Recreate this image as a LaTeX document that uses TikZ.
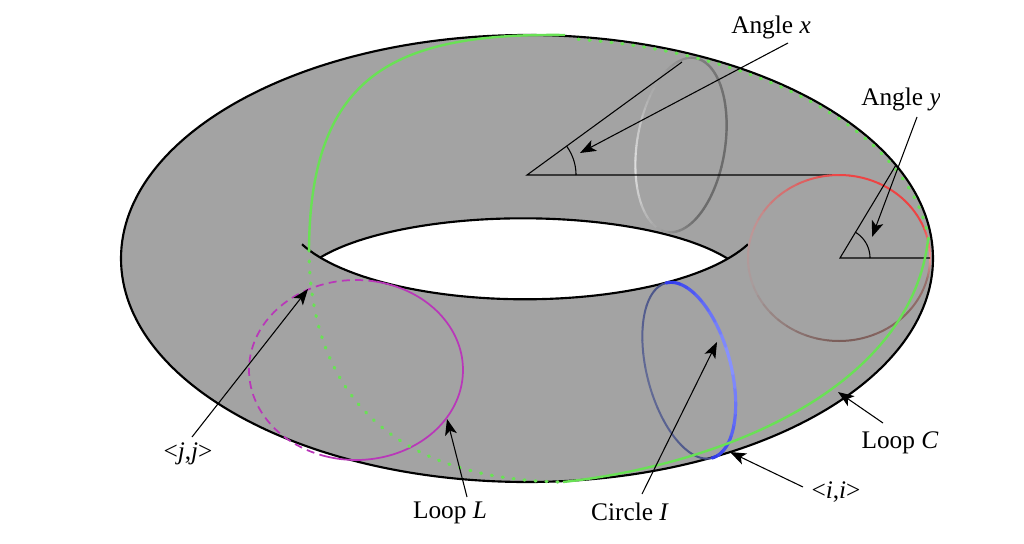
\documentclass[tikz,border=0pt]{standalone}
\usepackage{fontspec}
\setmainfont{Liberation Serif}
\usetikzlibrary{arrows.meta}
\definecolor{torusgray}{RGB}{163,163,163}
\definecolor{loopgreen}{RGB}{105,225,85}
\definecolor{loopmag}{RGB}{185,55,185}
\definecolor{bluefront}{RGB}{45,55,235}
\definecolor{bluelight}{RGB}{140,150,255}
\definecolor{blueback}{RGB}{70,80,135}
\definecolor{bluebackmid}{RGB}{100,108,150}
\definecolor{redmain}{RGB}{238,68,68}
\definecolor{redpink}{RGB}{240,150,150}
\definecolor{redpale}{RGB}{190,150,150}
\definecolor{redfaint}{RGB}{168,156,156}
\definecolor{redbrown}{RGB}{122,92,88}
\definecolor{redbrownl}{RGB}{150,112,108}
\definecolor{ringA}{RGB}{150,150,150}
\definecolor{ringB}{RGB}{108,108,108}
\definecolor{ringC}{RGB}{128,128,128}
\definecolor{ringD}{RGB}{172,172,172}
\definecolor{ringE}{RGB}{225,225,225}
\newcommand\esetup[6]{\def\myEcx{#1}\def\myEcy{#2}\def\myEa{#3}\def\myEb{#4}\def\myEux{#5}\def\myEuy{#6}}
\newcommand\gradseg[5]{%
  \foreach \k in {1,...,10}{%
    \pgfmathsetmacro\myTa{#1+(#2-#1)*(\k-1)/10}%
    \pgfmathsetmacro\myTb{#1+(#2-#1)*\k/10}%
    \pgfmathsetmacro\myPp{100*(\k-0.5)/10}%
    \draw[line width=#5, color=#4!\myPp!#3, line cap=round]
      plot[domain=\myTa:\myTb, samples=4, variable=\t]
      ({\myEcx+\myEa*cos(\t)*\myEux+\myEb*sin(\t)*\myEuy},{\myEcy+\myEa*cos(\t)*\myEuy-\myEb*sin(\t)*\myEux});
  }}
\begin{document}
\begin{tikzpicture}[x=0.75pt,y=-0.75pt,
  lbl/.style={font=\fontsize{19}{23}\selectfont, inner sep=0pt, anchor=base},
  thinln/.style={line width=0.8pt, black},
  arr/.style={line width=0.8pt, black, -{Stealth[length=12pt,width=9pt,inset=3pt]}},
  edgeln/.style={line width=1.6pt, black},
  dotgreen/.style={loopgreen, line width=2.4pt, line cap=round, dash pattern=on 0.8pt off 7.45pt},
  solgreen/.style={loopgreen, line width=1.8pt},
  magln/.style={loopmag, line width=1.3pt}]
\useasboundingbox (0,0) rectangle (1024,543);
\begin{scope}
\clip (0,0) rectangle (939,543);
% torus body
\fill[torusgray] (527,258.5) ellipse [x radius=406, y radius=223.5];
\begin{scope}
  \clip plot[domain=-180:0, samples=90, variable=\t] ({525+240*cos(\t)},{212-87.3*sin(\t)}) -- (765,100) -- (285,100) -- cycle;
  \fill[white] plot[domain=0:180, samples=90, variable=\t] ({523+230*cos(\t)},{292.6-74.3*sin(\t)}) -- (293,330) -- (753,330) -- cycle;
  \draw[edgeln] plot[domain=0:180, samples=90, variable=\t] ({523+230*cos(\t)},{292.6-74.3*sin(\t)});
\end{scope}
\draw[edgeln] plot[domain=-158.3:-21.7, samples=60, variable=\t] ({525+240*cos(\t)},{212-87.3*sin(\t)});
\draw[edgeln] (527,258.5) ellipse [x radius=406, y radius=223.5];
% tube ring near angle x
\esetup{681}{145}{88}{44}{-0.158}{0.988}
\gradseg{0}{40}{ringA}{ringB}{1.8pt}
\gradseg{40}{120}{ringB}{ringB}{1.8pt}
\gradseg{120}{180}{ringB}{ringC}{1.8pt}
\gradseg{180}{240}{ringC}{ringD}{1.6pt}
\gradseg{240}{290}{ringD}{ringE}{1.6pt}
\gradseg{290}{360}{ringE}{ringA}{1.6pt}
% angle x
\coordinate (ox) at (527,175);
\coordinate (xend) at (838,175);
\coordinate (xside) at (682,62);
\draw[thinln] (xend) -- (ox) -- (xside);
\draw[thinln] plot[domain=0:36, samples=20, variable=\t] ({527+49*cos(\t)},{175-49*sin(\t)});
% red tube circle
\esetup{839}{258}{91}{83}{1}{0}
\gradseg{0}{25}{redpink}{redmain}{1.5pt}
\gradseg{25}{90}{redmain}{redmain}{1.5pt}
\gradseg{90}{160}{redmain}{redpale}{1.5pt}
\gradseg{160}{200}{redpale}{redfaint}{1.5pt}
\gradseg{200}{270}{redfaint}{redbrown}{1.5pt}
\gradseg{270}{345}{redbrown}{redbrownl}{1.5pt}
\gradseg{345}{360}{redbrownl}{redpink}{1.5pt}
% angle y
\coordinate (oy) at (840,258);
\coordinate (yend) at (930,258);
\coordinate (yside) at (896,165);
\draw[thinln] (yend) -- (oy) -- (yside);
\draw[thinln] plot[domain=0:59, samples=20, variable=\t] ({840+30*cos(\t)},{258-30*sin(\t)});
% loop L
\draw[magln] plot[domain=-108:79, samples=80, variable=\t] ({356+107*cos(\t)},{370-90*sin(\t)});
\draw[magln, dash pattern=on 6pt off 4pt] plot[domain=79:252, samples=80, variable=\t] ({356+107*cos(\t)},{370-90*sin(\t)});
% circle I
\esetup{689}{370.5}{90.5}{42}{0.254}{0.967}
\gradseg{180}{270}{blueback}{bluebackmid}{1.5pt}
\gradseg{270}{360}{bluebackmid}{blueback}{1.5pt}
\gradseg{0}{90}{bluefront}{bluelight}{2.4pt}
\gradseg{90}{180}{bluelight}{bluefront}{2.4pt}
% loop C
\coordinate (c1) at (565,35);
\coordinate (c2) at (309,250);
\coordinate (c3) at (563,482);
\coordinate (c4) at (928,240);
\draw[solgreen] (c1) .. controls (400,33) and (310,70) .. (c2);
\draw[dotgreen] (c2) .. controls (310,400) and (400,480) .. (c3);
\draw[solgreen] (c3) .. controls (720,465) and (910,390) .. (c4);
\draw[dotgreen] plot[domain=5:83, samples=60, variable=\t] ({527+403*cos(\t)},{258.5-221*sin(\t)});
% labels
\node[lbl] (lax) at (771,33) {Angle \textit{x}};
\node[lbl] (lay) at (901,105) {Angle \textit{y}};
\node[lbl] (ljj) at (188,459) {\textless\textit{j},\textit{j}\textgreater};
\node[lbl] (lL) at (450,518) {Loop \textit{L}};
\node[lbl] (lI) at (630,520) {Circle \textit{I}};
\node[lbl] (lii) at (836,498) {\textless\textit{i},\textit{i}\textgreater};
\node[lbl] (lC) at (900,448) {Loop \textit{C}};
% arrows
\coordinate (axt) at (788,43);  \coordinate (axh) at (580,153);
\coordinate (ayt) at (917,117); \coordinate (ayh) at (872,237);
\coordinate (jjt) at (192,437); \coordinate (jjh) at (308,289);
\coordinate (Lt) at (467,497);  \coordinate (Lh) at (447,419);
\coordinate (It) at (642,494);  \coordinate (Ih) at (717,342);
\coordinate (iit) at (803,487); \coordinate (iih) at (730,452);
\coordinate (Ct) at (883,423);  \coordinate (Ch) at (838,392);
\draw[arr] (axt) -- (axh);
\draw[arr] (ayt) -- (ayh);
\draw[arr] (jjt) -- (jjh);
\draw[arr] (Lt) -- (Lh);
\draw[arr] (It) -- (Ih);
\draw[arr] (iit) -- (iih);
\draw[arr] (Ct) -- (Ch);
\end{scope}
\end{tikzpicture}
\end{document}
